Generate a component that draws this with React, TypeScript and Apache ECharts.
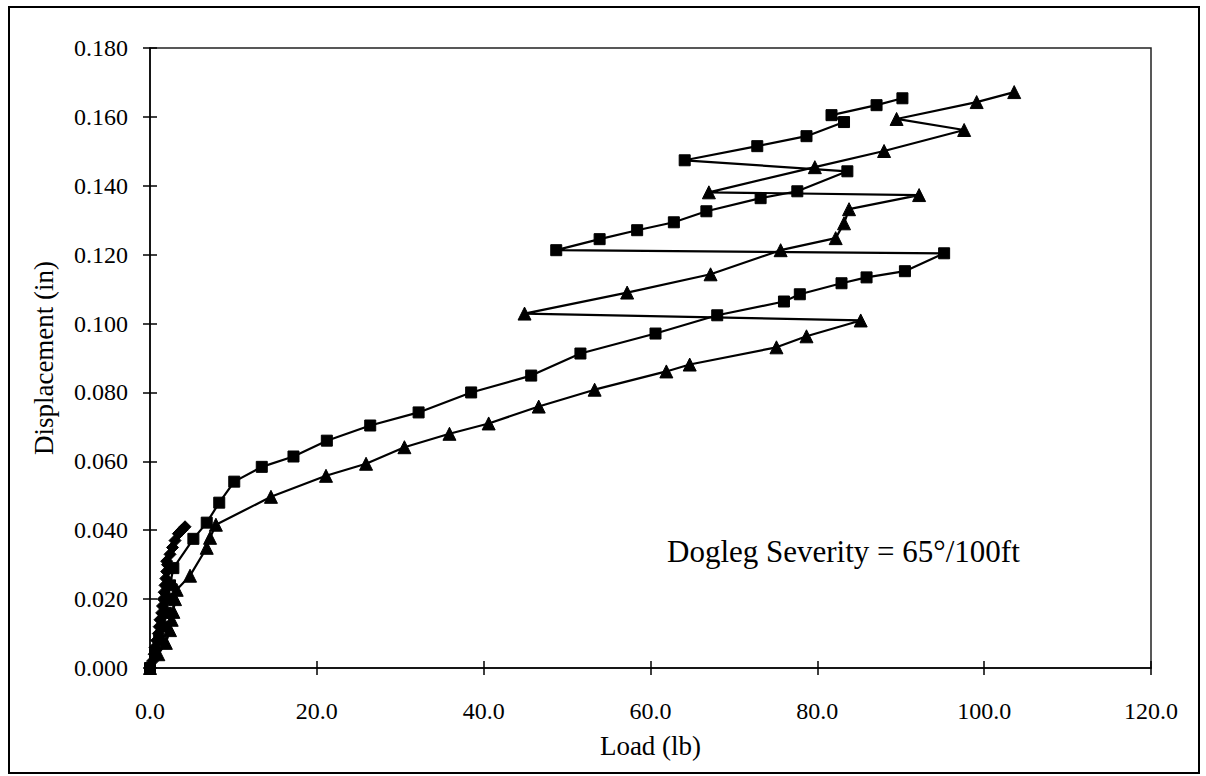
import React, { useEffect, useRef } from "react";
import * as echarts from "echarts";

// Load (lb) vs displacement (in) for three test runs
const diamondRun: [number, number][] = [
  [0.0, 0.0], [0.3, 0.002], [0.5, 0.004], [0.6, 0.006], [0.8, 0.008], [1.0, 0.01],
  [1.1, 0.012], [1.2, 0.014], [1.4, 0.016], [1.5, 0.018], [1.6, 0.02], [1.7, 0.022],
  [1.8, 0.024], [1.9, 0.026], [2.0, 0.028], [2.1, 0.03], [2.0, 0.031], [2.4, 0.033],
  [2.7, 0.035], [3.0, 0.037], [3.4, 0.039], [3.8, 0.04], [4.2, 0.041],
];

const squareRun: [number, number][] = [
  [0.0, 0.0], [0.6, 0.004], [1.1, 0.008], [1.6, 0.012], [1.9, 0.016], [2.1, 0.02],
  [2.4, 0.024], [2.8, 0.029], [5.2, 0.0375], [6.8, 0.0422], [8.3, 0.048], [10.1, 0.0541],
  [13.4, 0.0584], [17.2, 0.0614], [21.2, 0.066], [26.4, 0.0704], [32.2, 0.0742],
  [38.5, 0.080], [45.7, 0.0849], [51.6, 0.0913], [60.6, 0.0971], [68.0, 0.1024],
  [76.0, 0.1064], [77.9, 0.1085], [82.9, 0.1117], [85.9, 0.1134], [90.5, 0.1152],
  [95.2, 0.1204], [48.7, 0.1213], [53.9, 0.1245], [58.4, 0.1271], [62.8, 0.1294],
  [66.7, 0.1326], [73.2, 0.1364], [77.6, 0.1384], [83.6, 0.1442], [64.1, 0.1474],
  [72.8, 0.1515], [78.7, 0.1544], [83.2, 0.1585], [81.7, 0.1605], [87.1, 0.1634],
  [90.2, 0.1654],
];

const triangleRun: [number, number][] = [
  [0.0, 0.0], [1.0, 0.004], [1.9, 0.0073], [2.4, 0.011], [2.6, 0.014], [2.8, 0.0163],
  [3.0, 0.02], [3.2, 0.0227], [4.8, 0.0268], [6.8, 0.0349], [7.2, 0.0378], [7.9, 0.0416],
  [14.5, 0.0497], [21.1, 0.0558], [25.9, 0.0593], [30.5, 0.0641], [35.9, 0.068],
  [40.6, 0.071], [46.6, 0.0759], [53.3, 0.0808], [61.9, 0.0861], [64.7, 0.0881],
  [75.1, 0.0931], [78.7, 0.0963], [85.2, 0.1009], [44.9, 0.1029], [57.2, 0.109],
  [67.2, 0.1143], [75.6, 0.1213], [82.2, 0.1248], [83.2, 0.1291], [83.8, 0.1332],
  [92.2, 0.1373], [67.0, 0.1381], [79.7, 0.1454], [88.0, 0.1501], [97.6, 0.1562],
  [89.5, 0.1594], [99.1, 0.1643], [103.6, 0.1672],
];

const xTicks = { min: 0, max: 120, interval: 20 };
const yTicks = { min: 0, max: 0.18, interval: 0.02 };
const xTitle = "Load (lb)";
const yTitle = "Displacement (in)";
const noteText = "Dogleg Severity = 65°/100ft";

const FONT = "'Liberation Serif', 'Times New Roman', serif";
const INK = "#000";

export default function App() {
  const ref = useRef<HTMLDivElement>(null);

  useEffect(() => {
    document.body.style.margin = "0";
    if (!ref.current) return;
    const chart = echarts.init(ref.current, undefined, { renderer: "svg" });

    const lineSeries = (name: string, data: [number, number][], symbol: string, size: number) => ({
      name,
      type: "line",
      data,
      symbol,
      symbolSize: size,
      showSymbol: true,
      lineStyle: { color: INK, width: 2.2 },
      itemStyle: { color: INK, borderColor: INK },
      xAxisIndex: 0,
      yAxisIndex: 0,
      z: 3,
    });

    const baseX = {
      type: "value",
      min: xTicks.min,
      max: xTicks.max,
      interval: xTicks.interval,
      position: "bottom",
      splitLine: { show: false },
    };
    const baseY = {
      type: "value",
      min: yTicks.min,
      max: yTicks.max,
      interval: yTicks.interval,
      position: "left",
      splitLine: { show: false },
    };

    chart.setOption({
      animation: false,
      backgroundColor: "#fff",
      grid: {
        left: 150,
        right: 55,
        top: 48,
        bottom: 108,
        show: true,
        borderColor: "#222",
        borderWidth: 1.5,
        backgroundColor: "transparent",
      },
      xAxis: [
        {
          ...baseX,
          name: xTitle,
          nameLocation: "middle",
          nameGap: 64,
          nameTextStyle: { fontFamily: FONT, fontSize: 27, color: INK },
          axisLine: { show: true, lineStyle: { color: INK, width: 1.5 } },
          axisTick: { show: true, inside: false, length: 7, lineStyle: { color: INK, width: 1.5 } },
          axisLabel: {
            fontFamily: FONT,
            fontSize: 24,
            color: INK,
            margin: 31,
            formatter: (v: number) => v.toFixed(1),
          },
        },
        {
          ...baseX,
          axisLine: { show: false },
          axisTick: { show: true, inside: true, length: 7, lineStyle: { color: INK, width: 1.5 } },
          axisLabel: { show: false },
        },
      ],
      yAxis: [
        {
          ...baseY,
          name: yTitle,
          nameLocation: "middle",
          nameRotate: 90,
          nameGap: 93,
          nameTextStyle: { fontFamily: FONT, fontSize: 27, color: INK },
          axisLine: { show: true, lineStyle: { color: INK, width: 1.5 } },
          axisTick: { show: true, inside: false, length: 7, lineStyle: { color: INK, width: 1.5 } },
          axisLabel: {
            fontFamily: FONT,
            fontSize: 24,
            color: INK,
            margin: 22,
            formatter: (v: number) => v.toFixed(3),
          },
        },
        {
          ...baseY,
          axisLine: { show: false },
          axisTick: { show: true, inside: true, length: 7, lineStyle: { color: INK, width: 1.5 } },
          axisLabel: { show: false },
        },
      ],
      series: [
        lineSeries("Run A", diamondRun, "diamond", 12),
        lineSeries("Run B", squareRun, "rect", 11),
        lineSeries("Run C", triangleRun, "triangle", 13),
      ],
      graphic: [
        {
          type: "rect",
          shape: { x: 9, y: 7, width: 1190, height: 766 },
          style: { fill: "none", stroke: INK, lineWidth: 2 },
          silent: true,
        },
        {
          type: "text",
          x: 667,
          y: 551,
          style: {
            text: noteText,
            fontFamily: FONT,
            fontSize: 31,
            fill: INK,
            verticalAlign: "middle",
          },
          silent: true,
        },
      ],
    });

    return () => chart.dispose();
  }, []);

  return <div ref={ref} style={{ width: 1206, height: 776 }} />;
}
